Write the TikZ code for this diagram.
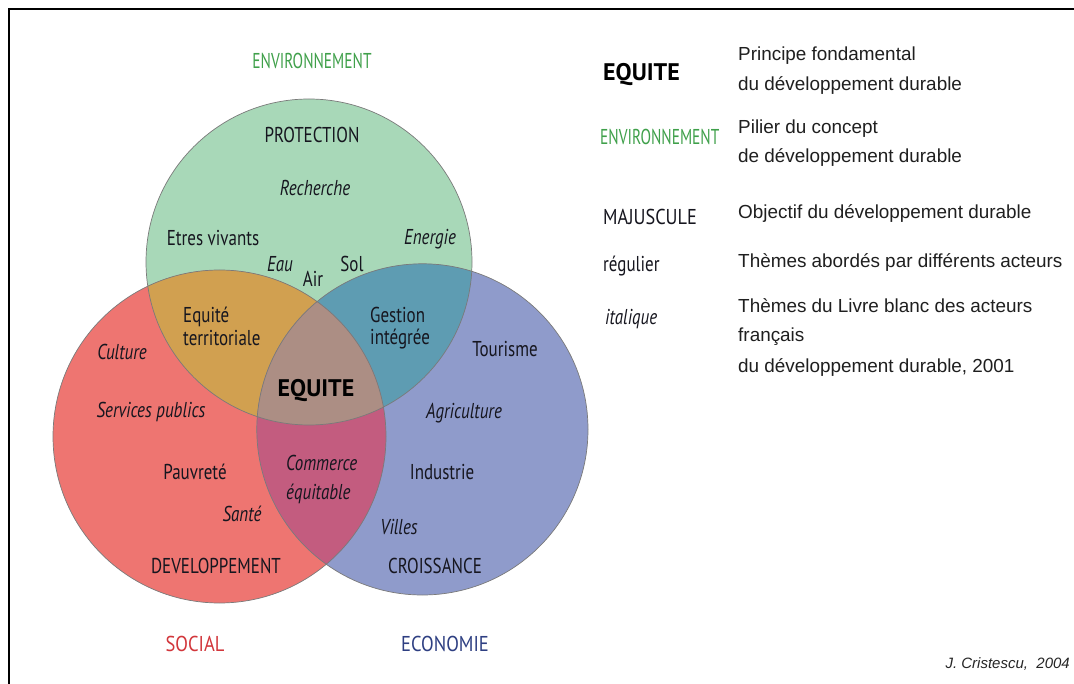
\documentclass[tikz,border=0pt]{standalone}
\usepackage{fontspec}
\setmainfont{Liberation Sans}
\newfontfamily\myr[FakeStretch=0.79]{PT Sans}
\definecolor{cG}{HTML}{A8D8B8}
\definecolor{cR}{HTML}{EE7571}
\definecolor{cB}{HTML}{8F9BCB}
\definecolor{cGR}{HTML}{D1A050}
\definecolor{cGB}{HTML}{5E9CB2}
\definecolor{cRB}{HTML}{C35C7F}
\definecolor{cGRB}{HTML}{AC8E84}
\definecolor{edge}{HTML}{7A7A7A}
\definecolor{txt}{HTML}{16161F}
\definecolor{tG}{HTML}{3FA04A}
\definecolor{tR}{HTML}{D2363B}
\definecolor{tB}{HTML}{2E3F82}
\tikzset{
  vt/.style={font=\myr\fontsize{21.5}{25}\selectfont, text=txt, inner sep=0pt, anchor=base},
  vti/.style={font=\myr\fontsize{21.5}{25}\selectfont\itshape, text=txt, inner sep=0pt, anchor=base},
  vtb/.style={font=\myr\fontsize{24}{27}\selectfont\bfseries\addfontfeature{FakeStretch=1.0}, text=black, inner sep=0pt, anchor=base},
  pillar/.style={font=\myr\fontsize{21.5}{25}\selectfont\addfontfeature{FakeStretch=0.716}, inner sep=0pt, anchor=base},
  pillarw/.style={font=\myr\fontsize{21.5}{25}\selectfont\addfontfeature{FakeStretch=0.86}, inner sep=0pt, anchor=base},
  lgl/.style={inner sep=0pt, anchor=base west},
  lgr/.style={font=\fontsize{18.9}{22}\selectfont, text=black!88, inner sep=0pt, anchor=base west},
  ring/.style={draw=edge, line width=0.7pt},
}
\begin{document}
\begin{tikzpicture}[x=1pt,y=-1pt]
\useasboundingbox (0,0) rectangle (1074,684);
\fill[white] (0,0) rectangle (1074,684);
% frame
\draw[line width=2.4pt, black] (9,684) -- (9,9) -- (1074,9);
% circle centres
\coordinate (G) at (309,262);
\coordinate (R) at (219.5,436.5);
\coordinate (B) at (422.4,429.4);
% base fills
\fill[cG] (G) circle[radius=163pt];
\fill[cR] (R) circle[radius=166.5pt];
\fill[cB] (B) circle[radius=165.6pt];
% pairwise overlaps
\begin{scope}
  \clip (G) circle[radius=163pt];
  \fill[cGR] (R) circle[radius=166.5pt];
  \fill[cGB] (B) circle[radius=165.6pt];
\end{scope}
\begin{scope}
  \clip (R) circle[radius=166.5pt];
  \fill[cRB] (B) circle[radius=165.6pt];
  \clip (G) circle[radius=163pt];
  \fill[cGRB] (B) circle[radius=165.6pt];
\end{scope}
% outlines
\draw[ring] (G) circle[radius=163pt];
\draw[ring] (R) circle[radius=166.5pt];
\draw[ring] (B) circle[radius=165.6pt];
% pillar labels
\node[pillar, text=tG] (env) at (312,69) {ENVIRONNEMENT};
\node[pillarw, text=tR] (soc) at (195,651) {SOCIAL};
\node[pillarw, text=tB] (eco) at (445,651) {ECONOMIE};
% green circle
\node[vt] (prot) at (312,143) {PROTECTION};
\node[vti] (rech) at (315,196) {Recherche};
\node[vt] (etres) at (213,246) {Etres vivants};
\node[vti] (ener) at (430,245) {Energie};
\node[vti] (eau) at (280,272) {Eau};
\node[vt] (air) at (313,287) {Air};
\node[vt] (sol) at (352,272) {Sol};
% overlaps
\node[vt, anchor=base west] (eq1) at (183,323) {Equité};
\node[vt, anchor=base west] (eq2) at (183,346) {territoriale};
\node[vt, anchor=base west] (ge1) at (370,323) {Gestion};
\node[vt, anchor=base west] (ge2) at (370,345) {intégrée};
\node[vtb] (equite) at (316,397) {EQUITE};
\node[vti, anchor=base west] (co1) at (286,471) {Commerce};
\node[vti, anchor=base west] (co2) at (286,500) {équitable};
% red circle
\node[vti] (cult) at (122,360) {Culture};
\node[vti] (serv) at (151,418) {Services publics};
\node[vt] (pauv) at (195,479) {Pauvreté};
\node[vti] (sante) at (242,521) {Santé};
\node[vt] (dev) at (216,573) {DEVELOPPEMENT};
% blue circle
\node[vt] (tour) at (505,357) {Tourisme};
\node[vti] (agri) at (464,419) {Agriculture};
\node[vt] (indu) at (442,479) {Industrie};
\node[vti] (vill) at (399,534) {Villes};
\node[vt] (crois) at (435,573) {CROISSANCE};
% legend, left column
\node[vtb, lgl] (lEq) at (603,81) {EQUITE};
\node[pillar, lgl, text=tG] (lEnv) at (600,145) {ENVIRONNEMENT};
\node[vt, lgl, font=\myr\fontsize{21.5}{25}\selectfont\addfontfeature{FakeStretch=0.85}] (lMaj) at (603,225) {MAJUSCULE};
\node[vt, lgl] (lReg) at (603,272) {régulier};
\node[vti, lgl] (lIta) at (605,325) {italique};
% legend, right column
\node[lgr] (r1) at (738,61) {Principe fondamental};
\node[lgr] (r2) at (738,91) {du développement durable};
\node[lgr] (r3) at (738,134) {Pilier du concept};
\node[lgr] (r4) at (738,163) {de développement durable};
\node[lgr] (r5) at (738,219) {Objectif du développement durable};
\node[lgr] (r6) at (738,268) {Thèmes abordés par différents acteurs};
\node[lgr] (r7) at (738,313) {Thèmes du Livre blanc des acteurs};
\node[lgr] (r8) at (738,342) {français};
\node[lgr] (r9) at (738,373) {du développement durable, 2001};
% credit
\node[font=\fontsize{15}{18}\selectfont\itshape, text=black!85, inner sep=0pt, anchor=base east] (cred) at (1070,668) {J. Cristescu,\ \ 2004};
\end{tikzpicture}
\end{document}
